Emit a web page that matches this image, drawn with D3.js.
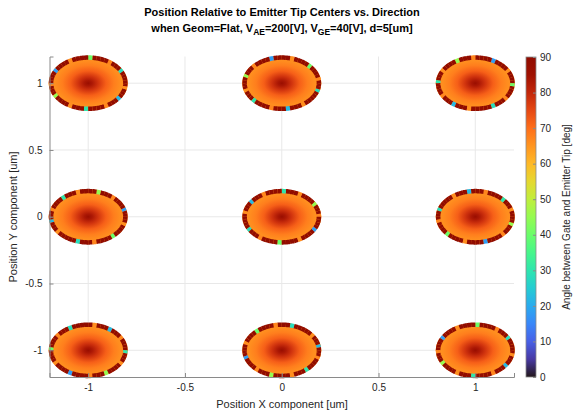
<!DOCTYPE html>
<html>
<head>
<meta charset="utf-8">
<style>
  body { margin: 0; background: #fff; }
  text { font-family: "Liberation Sans", Arial, sans-serif; }
  .tick text { fill: #262626; font-size: 10px; }
</style>
</head>
<body>
<svg id="chart" width="575" height="415"></svg>
<script src="https://cdn.jsdelivr.net/npm/d3@7"></script>
<script>
// emitter tip centers [um]
const tipX = [-1, 0, 1, -1, 0, 1, -1, 0, 1]
const tipY = [1, 1, 1, 0, 0, 0, -1, -1, -1]
const tipRadius = 0.205

// angle [deg] vs normalised distance from tip center (interior of each spot)
const profileR = [0, 0.1, 0.25, 0.45, 0.65, 0.82, 0.93]
const profileAngle = [86, 83, 78, 72, 68, 66, 65.5]

// angle [deg] of points sitting on the rim, walking round the edge
const rimAngle = [89, 88, 90, 89, 28, 88, 89, 90, 67, 88, 89, 90, 88, 40, 89, 88,
  90, 89, 66, 88, 90, 89, 88, 18, 89, 90, 88, 89, 67, 90, 88, 89, 45, 88, 90, 89,
  88, 66, 89, 90, 88, 30, 89, 88, 90, 89, 67, 88, 89, 90, 22, 88, 89, 90, 66, 88]

const xTicks = [-1, -0.5, 0, 0.5, 1]
const yTicks = [-1, -0.5, 0, 0.5, 1]
const cbTicks = [0, 10, 20, 30, 40, 50, 60, 70, 80, 90]

let svg = d3.select("#chart")

let xScale = d3.scaleLinear().domain([-1.2, 1.2]).range([49.5, 514])
let yScale = d3.scaleLinear().domain([-1.2, 1.2]).range([377, 56.5])
let colorScale = d3.scaleSequential(d3.interpolateTurbo).domain([0, 90])

// grid
let grid = svg.append("g")
grid.selectAll("line.gx").data(xTicks).join("line")
  .attr("x1", d => xScale(d)).attr("x2", d => xScale(d))
  .attr("y1", yScale.range()[0]).attr("y2", yScale.range()[1])
  .attr("stroke", "#e8e8e8").attr("stroke-width", 1)
grid.selectAll("line.gy").data(yTicks).join("line")
  .attr("y1", d => yScale(d)).attr("y2", d => yScale(d))
  .attr("x1", xScale.range()[0]).attr("x2", xScale.range()[1])
  .attr("stroke", "#e8e8e8").attr("stroke-width", 1)

// gradient for spot interior
let defs = svg.append("defs")
let grad = defs.append("radialGradient").attr("id", "spot")
  .attr("cx", "50%").attr("cy", "50%").attr("r", "50%")
grad.selectAll("stop").data(profileR).join("stop")
  .attr("offset", d => d)
  .attr("stop-color", (d, i) => colorScale(profileAngle[i]))

let spots = svg.append("g")
spots.selectAll("ellipse").data(tipX).join("ellipse")
  .attr("cx", d => xScale(d))
  .attr("cy", (d, i) => yScale(tipY[i]))
  .attr("rx", xScale(tipRadius) - xScale(0))
  .attr("ry", yScale(0) - yScale(tipRadius))
  .attr("fill", "url(#spot)")

// rim points
let rimR = tipRadius - 0.013
let n = rimAngle.length
tipX.forEach((cx, k) => {
  let cy = tipY[k]
  let g = spots.append("g")
  rimAngle.forEach((_, j) => {
    let v = rimAngle[(j + k * 7) % n]
    let a0 = j / n * 2 * Math.PI
    let a1 = (j + 1) / n * 2 * Math.PI
    let pts = d3.range(5).map(s => {
      let a = a0 + (a1 - a0) * s / 4
      return [xScale(cx + rimR * Math.cos(a)), yScale(cy + rimR * Math.sin(a))]
    })
    g.append("path")
      .attr("d", d3.line()(pts))
      .attr("fill", "none")
      .attr("stroke", colorScale(v))
      .attr("stroke-width", 4.5)
  })
})

// axes
let xAxis = d3.axisBottom(xScale).tickValues(xTicks).tickSize(-4).tickPadding(7)
  .tickFormat(d3.format("~g"))
let yAxis = d3.axisLeft(yScale).tickValues(yTicks).tickSize(-4).tickPadding(7)
  .tickFormat(d3.format("~g"))
let xg = svg.append("g").attr("transform", `translate(0,${yScale.range()[0]})`).call(xAxis)
let yg = svg.append("g").attr("transform", `translate(${xScale.range()[0]},0)`).call(yAxis)
;[xg, yg].forEach(g => {
  g.select(".domain").attr("stroke", "#8a8a8a")
  g.selectAll(".tick line").attr("stroke", "#8a8a8a")
  g.selectAll(".tick text").style("font-family", "'Liberation Sans', Arial, sans-serif")
})
yg.selectAll(".tick text").text(d => d3.format("~g")(d).replace("−", "-"))
xg.selectAll(".tick text").text(d => d3.format("~g")(d).replace("−", "-"))

svg.append("text").attr("x", 282).attr("y", 408).attr("text-anchor", "middle")
  .attr("font-size", 11).attr("fill", "#262626").text("Position X component [um]")
svg.append("text").attr("transform", "translate(17,217) rotate(-90)").attr("text-anchor", "middle")
  .attr("font-size", 11).attr("fill", "#262626").text("Position Y component [um]")

// title
let title = svg.append("g").attr("font-weight", "bold").attr("font-size", 11).attr("fill", "#000")
title.append("text").attr("x", 282).attr("y", 16).attr("text-anchor", "middle")
  .text("Position Relative to Emitter Tip Centers vs. Direction")
let t2 = title.append("text").attr("x", 282).attr("y", 32).attr("text-anchor", "middle")
t2.append("tspan").text("when Geom=Flat, V")
t2.append("tspan").attr("font-size", 8.5).attr("dy", 3).text("AE")
t2.append("tspan").attr("dy", -3).text("=200[V], V")
t2.append("tspan").attr("font-size", 8.5).attr("dy", 3).text("GE")
t2.append("tspan").attr("dy", -3).text("=40[V], d=5[um]")

// colorbar
let cbScale = d3.scaleLinear().domain([0, 90]).range([377, 57])
let cbGrad = defs.append("linearGradient").attr("id", "cb")
  .attr("x1", 0).attr("y1", 1).attr("x2", 0).attr("y2", 0)
cbGrad.selectAll("stop").data(d3.range(0, 91, 5)).join("stop")
  .attr("offset", d => d / 90).attr("stop-color", d => colorScale(d))
svg.append("rect").attr("x", 526).attr("y", cbScale(90))
  .attr("width", 10).attr("height", cbScale(0) - cbScale(90))
  .attr("fill", "url(#cb)").attr("stroke", "#8a8a8a").attr("stroke-width", 0.8)
let cbAxis = d3.axisRight(cbScale).tickValues(cbTicks).tickSize(-3).tickPadding(4)
let cbg = svg.append("g").attr("transform", "translate(536,0)").call(cbAxis)
cbg.select(".domain").remove()
cbg.selectAll(".tick line").attr("stroke", "#8a8a8a")
svg.append("text").attr("transform", "translate(570,217) rotate(-90)").attr("text-anchor", "middle")
  .attr("font-size", 10).attr("fill", "#262626").text("Angle between Gate and Emitter Tip [deg]")
</script>
</body>
</html>
